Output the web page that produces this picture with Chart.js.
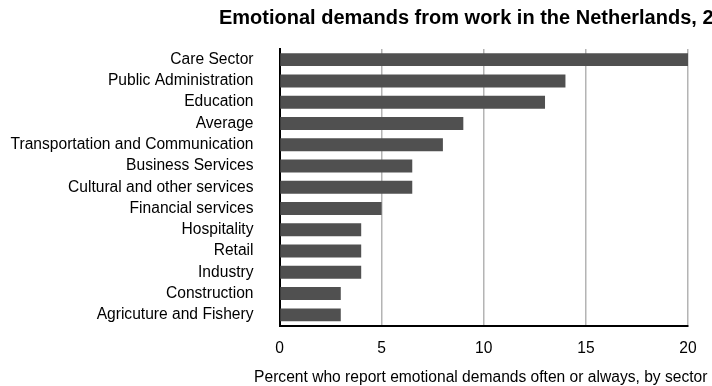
<!DOCTYPE html>
<html>
<head>
<meta charset="utf-8">
<script src="https://cdn.jsdelivr.net/npm/chart.js@4/dist/chart.umd.min.js"></script>
<style>
    html, body { margin: 0; padding: 0; background: #ffffff; }
    #wrap { width: 712px; height: 386px; position: relative; }
</style>
</head>
<body>
<div id="wrap"><canvas id="sectorChart"></canvas></div>
<script>
// Sectors, top to bottom
const sectors = [
    'Care Sector', 'Public Administration', 'Education', 'Average',
    'Transportation and Communication', 'Business Services',
    'Cultural and other services', 'Financial services', 'Hospitality',
    'Retail', 'Industry', 'Construction', 'Agricuture and Fishery'
];
// Percent reporting emotional demands often or always
const percentValues = [20, 14, 13, 9, 8, 6.5, 6.5, 5, 4, 4, 4, 3, 3];
const xTicks = [0, 5, 10, 15, 20];

const chartTitle = 'Emotional demands from work in the Netherlands, 2010';
const axisTitle = 'Percent who report emotional demands often or always, by sector';
const fontFamily = '"Liberation Sans", Arial, Helvetica, sans-serif';

// Chart title runs off the right edge, axis title is wider than the plot,
// so both are drawn by hand instead of by the built-in title boxes
const textPlugin = {
    id: 'freeText',
    afterDraw(chart) {
        const ctx = chart.ctx;
        const area = chart.chartArea;
        ctx.save();
        ctx.fillStyle = '#000000';
        ctx.textBaseline = 'middle';

        ctx.font = 'bold 20px ' + fontFamily;
        ctx.textAlign = 'left';
        ctx.fillText(chartTitle, 219, 18);

        ctx.font = '15.6px ' + fontFamily;
        ctx.textAlign = 'center';
        ctx.fillText(axisTitle, (area.left + area.right) / 2 - 3, 378);
        ctx.restore();
    }
};

const ctx = document.getElementById('sectorChart').getContext('2d');
new Chart(ctx, {
    type: 'bar',
    data: {
        labels: sectors,
        datasets: [{
            data: percentValues,
            backgroundColor: '#505050',
            borderWidth: 0,
            barPercentage: 0.61,
            categoryPercentage: 1.0
        }]
    },
    options: {
        indexAxis: 'y',
        responsive: true,
        maintainAspectRatio: false,
        animation: false,
        layout: { padding: { top: 49, left: 8, right: 24, bottom: 0 } },
        plugins: {
            legend: { display: false },
            tooltip: { enabled: false }
        },
        scales: {
            x: {
                min: 0,
                max: 20,
                afterBuildTicks(scale) {
                    scale.ticks = xTicks.map(v => ({ value: v }));
                },
                afterFit(scale) { scale.height = 60.5; },
                grid: {
                    drawTicks: false,
                    lineWidth: 1.5,
                    color: c => c.tick && c.tick.value === 0 ? 'rgba(0,0,0,0)' : '#b4b4b4'
                },
                border: { display: true, color: '#000000', width: 2 },
                ticks: {
                    color: '#000000',
                    padding: 14,
                    font: { family: fontFamily, size: 15.6 }
                }
            },
            y: {
                afterFit(scale) { scale.width = 271.5; },
                grid: { display: false, drawTicks: false },
                border: { display: true, color: '#000000', width: 2 },
                ticks: {
                    color: '#000000',
                    padding: 26,
                    autoSkip: false,
                    font: { family: fontFamily, size: 15.6 }
                }
            }
        }
    },
    plugins: [textPlugin]
});
</script>
</body>
</html>
